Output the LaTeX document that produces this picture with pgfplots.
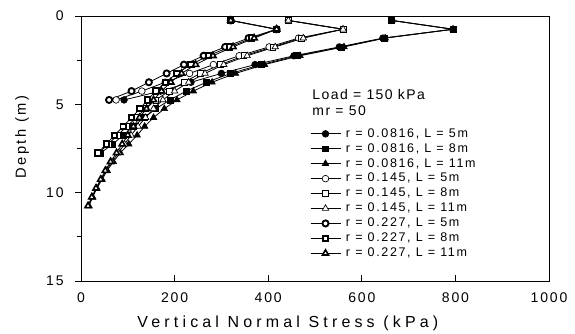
\documentclass[border=0pt]{standalone}
\usepackage{fontspec}
\setmainfont{Liberation Sans}
\newfontfamily\xlabfont[LetterSpace=26]{Liberation Sans}
\newfontfamily\ylabfont[LetterSpace=18]{Liberation Sans}
\newfontfamily\tickfont[LetterSpace=13]{Liberation Sans}
\newfontfamily\legfont[LetterSpace=13]{Liberation Sans}
\newfontfamily\notefont[LetterSpace=10]{Liberation Sans}
\usepackage{pgfplots}
\pgfplotsset{compat=1.18}

\pgfplotstableread{
d fc
0.25 664
0.75 795
1.25 645
1.75 552
2.25 455
2.75 372
3.25 300
3.75 235
4.25 170
4.75 92
}\tfc
\pgfplotstableread{
d fs
0.25 664
0.75 795
1.25 648
1.75 557
2.25 462
2.75 385
3.25 320
3.75 268
4.25 225
4.75 190
5.25 160
5.75 135
6.25 112
6.75 90
7.25 68
7.75 42
}\tfs
\pgfplotstableread{
d ft
0.25 664
0.75 795
1.25 650
1.75 562
2.25 468
2.75 392
3.25 330
3.75 280
4.25 240
4.75 205
5.25 178
5.75 155
6.25 136
6.75 120
7.25 102
7.75 84
8.25 69
8.75 56
9.25 45
9.75 34
10.25 25
10.75 17
}\tft
\pgfplotstableread{
d oc
0.25 443
0.75 560
1.25 465
1.75 402
2.25 338
2.75 283
3.25 232
3.75 180
4.25 130
4.75 75
}\toc
\pgfplotstableread{
d os
0.25 443
0.75 560
1.25 470
1.75 410
2.25 348
2.75 298
3.25 255
3.75 220
4.25 188
4.75 160
5.25 138
5.75 118
6.25 98
6.75 78
7.25 58
7.75 38
}\tos
\pgfplotstableread{
d ot
0.25 443
0.75 560
1.25 475
1.75 415
2.25 355
2.75 305
3.25 265
3.75 230
4.25 200
4.75 175
5.25 155
5.75 138
6.25 122
6.75 107
7.25 93
7.75 80
8.25 66
8.75 54
9.25 43
9.75 33
10.25 24
10.75 16
}\tot
\pgfplotstableread{
d bc
0.25 320
0.75 418
1.25 358
1.75 308
2.25 262
2.75 220
3.25 183
3.75 145
4.25 108
4.75 60
}\tbc
\pgfplotstableread{
d bs
0.25 320
0.75 418
1.25 365
1.75 318
2.25 272
2.75 235
3.25 205
3.75 180
4.25 160
4.75 142
5.25 126
5.75 108
6.25 90
6.75 72
7.25 54
7.75 36
}\tbs
\pgfplotstableread{
d bt
0.25 320
0.75 418
1.25 370
1.75 325
2.25 282
2.75 245
3.25 215
3.75 192
4.25 172
4.75 155
5.25 140
5.75 125
6.25 112
6.75 100
7.25 88
7.75 76
8.25 63
8.75 52
9.25 42
9.75 32
10.25 23
10.75 15
}\tbt

\begin{document}
\begin{tikzpicture}
\begin{axis}[
  scale only axis, width=351pt, height=198.75pt,
  xmin=0, xmax=1000, ymin=0, ymax=15, y dir=reverse,
  xtick={0,200,400,600,800,1000}, ytick={0,5,10,15},
  minor ytick={2.5,7.5,12.5},
  xtick pos=bottom, ytick pos=left,
  xtick align=inside, ytick align=outside,
  major tick length=4.5pt, minor tick length=3pt,
  axis line style={line width=0.7pt},
  tick style={line width=0.7pt, black},
  /pgf/number format/assume math mode=true,
  /pgf/number format/1000 sep={},
  xticklabel style={font=\tickfont\fontsize{10.5}{12}\selectfont, yshift=-5pt},
  yticklabel style={font=\tickfont\fontsize{10.5}{12}\selectfont, xshift=-5pt},
  xlabel={\xlabfont\fontsize{12}{14}\selectfont Vertical Normal Stress (kPa)},
  ylabel={\ylabfont\fontsize{11}{13}\selectfont Depth (m)},
  xlabel style={at={(axis description cs:0.442,-0.158)}, anchor=center},
  ylabel style={at={(axis description cs:-0.126,0.543)}, anchor=center},
  legend style={at={(axis description cs:0.489,0.582)}, anchor=north west,
    draw=none, fill=none, inner sep=0pt, row sep=1pt, column sep=3pt,
    font=\legfont\fontsize{9.4}{11}\selectfont,
    nodes={inner sep=0.8pt, text height=6.8pt, text depth=1.8pt}},
  legend cell align=left,
  legend image code/.code={\draw[mark repeat=2,mark phase=2,#1] plot coordinates {(0pt,0pt) (11.25pt,0pt) (22.5pt,0pt)};},
  every axis plot/.append style={black, line width=0.6pt},
]
\addplot[mark=*, mark size=2.5pt, mark options={fill=black, line width=0.5pt}] table[x=fc,y=d] {\tfc};
\addlegendentry{r = 0.0816, L = 5m}
\addplot[mark=square*, mark size=2.2pt, mark options={fill=black, line width=0.5pt}] table[x=fs,y=d] {\tfs};
\addlegendentry{r = 0.0816, L = 8m}
\addplot[mark=triangle*, mark size=2.8pt, mark options={fill=black, line width=0.5pt}] table[x=ft,y=d] {\tft};
\addlegendentry{r = 0.0816, L = 11m}
\addplot[mark=*, mark size=2.5pt, mark options={fill=white, line width=0.5pt}] table[x=oc,y=d] {\toc};
\addlegendentry{r = 0.145, L = 5m}
\addplot[mark=square*, mark size=2.2pt, mark options={fill=white, line width=0.5pt}] table[x=os,y=d] {\tos};
\addlegendentry{r = 0.145, L = 8m}
\addplot[mark=triangle*, mark size=2.8pt, mark options={fill=white, line width=0.5pt}] table[x=ot,y=d] {\tot};
\addlegendentry{r = 0.145, L = 11m}
\addplot[mark=*, mark size=2.3pt, mark options={fill=white, line width=1.4pt}] table[x=bc,y=d] {\tbc};
\addlegendentry{r = 0.227, L = 5m}
\addplot[mark=square*, mark size=2.0pt, mark options={fill=white, line width=1.4pt}] table[x=bs,y=d] {\tbs};
\addlegendentry{r = 0.227, L = 8m}
\addplot[mark=triangle*, mark size=2.6pt, mark options={fill=white, line width=1.2pt}] table[x=bt,y=d] {\tbt};
\addlegendentry{r = 0.227, L = 11m}
\node[anchor=west, inner sep=0pt, font=\notefont\fontsize{10.5}{12}\selectfont] at (axis cs:494,4.47) {Load = 150 kPa};
\node[anchor=west, inner sep=0pt, font=\notefont\fontsize{10.5}{12}\selectfont] at (axis cs:494,5.38) {mr = 50};
\end{axis}
\pgfresetboundingbox
\path (current axis.south west) ++(-60.75pt,-39pt) (current axis.north east) ++(19.5pt,12pt);
\end{tikzpicture}
\end{document}
